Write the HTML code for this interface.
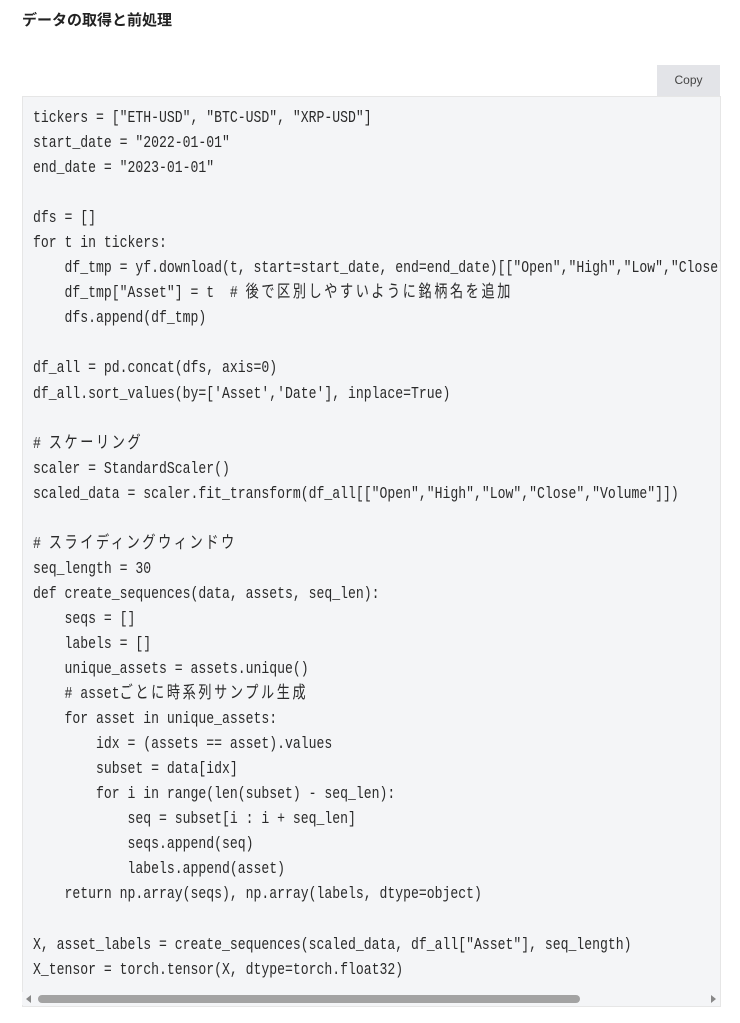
<!DOCTYPE html>
<html><head><meta charset="utf-8"><style>
body{margin:0;background:#fff;width:740px;height:1023px;overflow:hidden;position:relative;font-family:"Liberation Sans","Noto Sans CJK JP",sans-serif}
h3{position:absolute;left:22px;top:9px;margin:0;font-size:15px;font-weight:bold;color:#222;font-family:"Liberation Sans","Noto Sans CJK JP",sans-serif}
.copy{position:absolute;left:657px;top:65px;width:63px;height:31px;background:#e3e4e8;color:#444;font-size:12px;text-align:center;line-height:31px}
.box{position:absolute;left:22px;top:96px;width:697px;height:909px;background:#f4f5f7;border:1px solid #e6e6e6;overflow:hidden}
.code{position:absolute;left:10px;top:9px;transform:scaleX(0.772);transform-origin:0 0;white-space:pre;font-family:"Liberation Mono","Noto Sans CJK JP",monospace;font-size:17px;line-height:25.05px;color:#2a2a2a}
.j{letter-spacing:3.4px}
.sb{position:absolute;left:22px;top:992px;width:697px;height:13px;background:#f4f5f7}
.thumb{position:absolute;left:38px;top:995px;width:542px;height:8px;border-radius:4px;background:#a3a3a3}
.al{position:absolute;left:26px;top:995px;width:0;height:0;border-top:4px solid transparent;border-bottom:4px solid transparent;border-right:5px solid #888}
.ar{position:absolute;left:711px;top:995px;width:0;height:0;border-top:4px solid transparent;border-bottom:4px solid transparent;border-left:5px solid #888}
</style></head><body>
<h3>データの取得と前処理</h3>
<div class="copy">Copy</div>
<div class="box"><div class="code">tickers = ["ETH-USD", "BTC-USD", "XRP-USD"]
start_date = "2022-01-01"
end_date = "2023-01-01"

dfs = []
for t in tickers:
    df_tmp = yf.download(t, start=start_date, end=end_date)[["Open","High","Low","Close","Volume"]]
    df_tmp["Asset"] = t  # <span class="j">後で区別しやすいように銘柄名を追加</span>
    dfs.append(df_tmp)

df_all = pd.concat(dfs, axis=0)
df_all.sort_values(by=['Asset','Date'], inplace=True)

# <span class="j">スケーリング</span>
scaler = StandardScaler()
scaled_data = scaler.fit_transform(df_all[["Open","High","Low","Close","Volume"]])

# <span class="j">スライディングウィンドウ</span>
seq_length = 30
def create_sequences(data, assets, seq_len):
    seqs = []
    labels = []
    unique_assets = assets.unique()
    # asset<span class="j">ごとに時系列サンプル生成</span>
    for asset in unique_assets:
        idx = (assets == asset).values
        subset = data[idx]
        for i in range(len(subset) - seq_len):
            seq = subset[i : i + seq_len]
            seqs.append(seq)
            labels.append(asset)
    return np.array(seqs), np.array(labels, dtype=object)

X, asset_labels = create_sequences(scaled_data, df_all["Asset"], seq_length)
X_tensor = torch.tensor(X, dtype=torch.float32)</div></div>
<div class="sb"></div>
<div class="thumb"></div>
<div class="al"></div>
<div class="ar"></div>
</body></html>
